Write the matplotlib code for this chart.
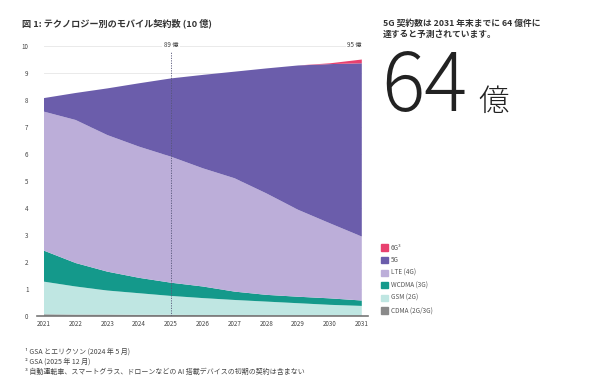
import matplotlib.pyplot as plt
from matplotlib.patches import Patch

plt.rcParams['font.family'] = ['Noto Sans CJK JP', 'DejaVu Sans']

years = [2021, 2022, 2023, 2024, 2025, 2026, 2027, 2028, 2029, 2030, 2031]
cdma = [0.06, 0.05, 0.05, 0.04, 0.04, 0.03, 0.03, 0.02, 0.02, 0.02, 0.02]
gsm = [1.21, 1.04, 0.89, 0.80, 0.70, 0.63, 0.56, 0.51, 0.45, 0.39, 0.35]
wcdma = [1.15, 0.87, 0.70, 0.57, 0.49, 0.43, 0.31, 0.25, 0.24, 0.24, 0.20]
lte = [5.15, 5.30, 5.06, 4.86, 4.67, 4.38, 4.20, 3.76, 3.22, 2.78, 2.37]
g5 = [0.50, 1.00, 1.73, 2.35, 2.90, 3.46, 3.95, 4.63, 5.35, 5.90, 6.42]
g6 = [0, 0, 0, 0, 0, 0, 0, 0, 0, 0.03, 0.14]

labels = ['CDMA (2G/3G)', 'GSM (2G)', 'WCDMA (3G)', 'LTE (4G)', '5G', '6G³']
colors = ['#8a8a8a', '#bfe6e2', '#14998b', '#bcaed9', '#6b5dab', '#e8416f']

fig = plt.figure(figsize=(6, 3.9), dpi=100)
ax = fig.add_axes([0.073, 0.19, 0.53, 0.692])
ax.stackplot(years, cdma, gsm, wcdma, lte, g5, g6, colors=colors, linewidth=0)
ax.set_xlim(2021, 2031)
ax.set_ylim(0, 10)
ax.set_yticks(range(11))
ax.set_xticks(years)
ax.tick_params(length=0, labelsize=4.5, colors='#444444')
ax.tick_params(axis='y', pad=11)
ax.tick_params(axis='x', pad=3)
ax.grid(axis='y', color='#e6e6e6', lw=0.6)
ax.set_axisbelow(True)
for s in ax.spines.values():
    s.set_visible(False)
ax.axhline(0, color='#777777', lw=1.2, clip_on=False, xmin=-0.02, xmax=1.02)
ax.axvline(2025, color='#555577', lw=0.6, ls=(0, (1.5, 1.5)), ymax=0.98)
ax.text(2025, 10.05, '89 億', ha='center', va='center', fontsize=4.5, color='#444444',
        bbox=dict(fc='white', ec='none', pad=1))
ax.text(2031, 10.05, '95 億', ha='right', va='center', fontsize=4.5, color='#444444',
        bbox=dict(fc='white', ec='none', pad=1))

fig.text(0.037, 0.94, '図 1: テクノロジー別のモバイル契約数 (10 億)', fontsize=6.6,
         fontweight='bold', color='#333333', va='center')
fig.text(0.638, 0.925, '5G 契約数は 2031 年末までに 64 億件に\n達すると予測されています。',
         fontsize=6.3, fontweight='bold', color='#333333', va='center', linespacing=1.3)
fig.text(0.635, 0.715, '64', fontsize=58, fontweight='light', color='#222222', va='baseline')
fig.text(0.797, 0.715, '億', fontsize=22, fontweight='light', color='#222222', va='baseline')

handles = [Patch(color=c, label=l) for c, l in zip(colors, labels)][::-1]
fig.legend(handles=handles, loc='upper left', bbox_to_anchor=(0.625, 0.39), frameon=False,
           fontsize=4.6, handlelength=1.1, handleheight=1.1, labelspacing=0.72,
           handletextpad=0.5, labelcolor='#555555')

notes = ['¹ GSA とエリクソン (2024 年 5 月)', '² GSA (2025 年 12 月)',
         '³ 自動運転車、スマートグラス、ドローンなどの AI 搭載デバイスの初期の契約は含まない']
for i, n in enumerate(notes):
    fig.text(0.042, 0.098 - i * 0.026, n, fontsize=5.0, color='#444444', va='center')

fig.savefig('out.png', dpi=100)
